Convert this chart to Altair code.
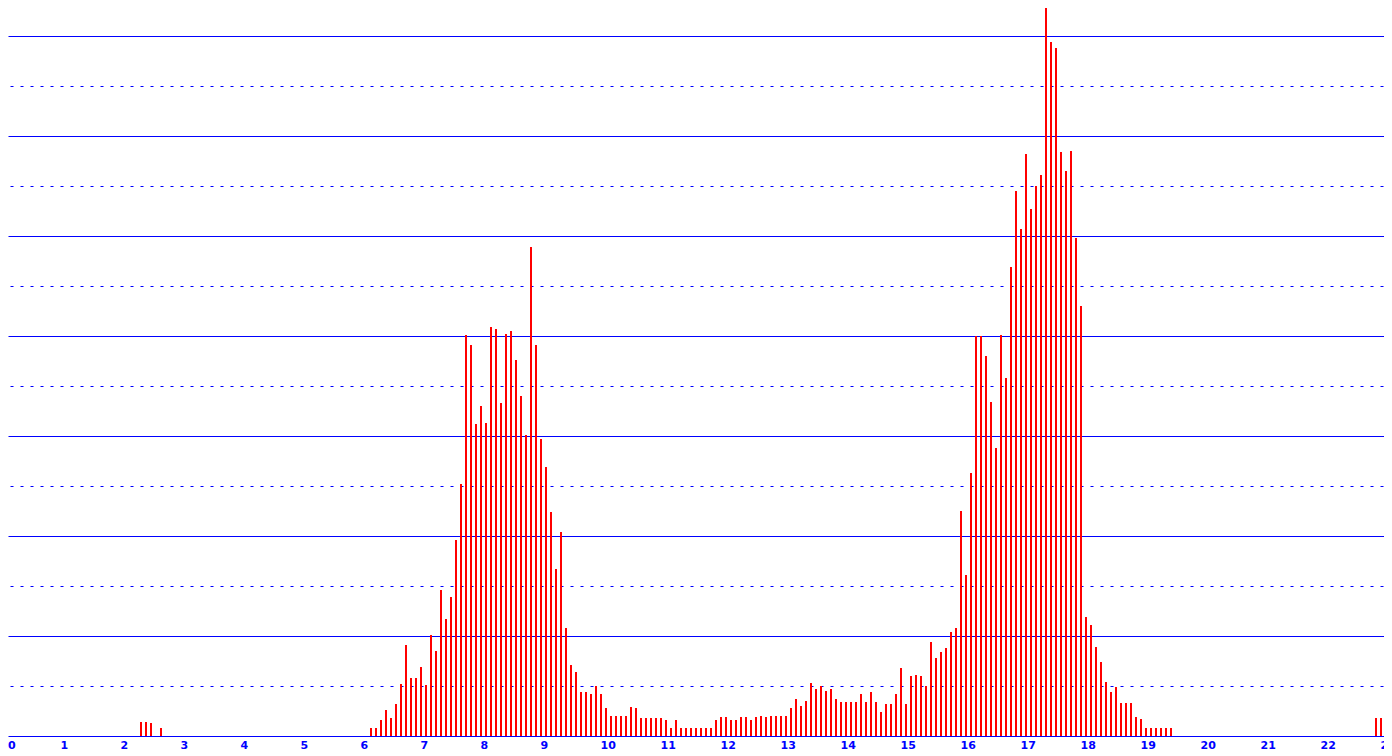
import altair as alt
import pandas as pd

# Tick labels on the time axis (hours of the day)
hour_ticks = list(range(24))

# Horizontal grid levels (solid every 100, dotted in between)
grid_levels = [50, 100, 150, 200, 250, 300, 350, 400, 450, 500, 550, 600, 650, 700]

# Counts per 5-minute slot
night_start = "02:15"
night_counts = [14, 14, 13, 0, 8]

day_start = "06:05"
day_counts = [
    8, 8, 16, 26, 18, 32, 52,
    91, 58, 58, 69, 51, 101, 85, 146, 117, 139,
    196, 252, 401, 391, 312, 330, 313, 409, 407, 333,
    402, 405, 376, 340, 301, 489, 391, 297, 269, 224,
    167, 204, 108, 71, 64, 44, 44, 42, 50, 42,
    28, 20, 20, 20, 20, 29, 28, 18, 18, 18,
    18, 18, 16, 8, 16, 8, 8, 8, 8, 8,
    8, 8, 16, 19, 19, 16, 16, 19, 19, 16,
    19, 20, 19, 20, 20, 20, 20, 28, 37, 30,
    35, 53, 47, 50, 45, 47, 37, 34, 34, 34,
    34, 42, 34, 44, 34, 24, 32, 32, 42, 68,
    32, 60, 61, 60, 50, 94, 78, 84, 88, 104,
    108, 225, 161, 263, 400, 400, 380, 334, 288, 401,
    358, 469, 545, 507, 582, 527, 550, 561, 734, 694,
    688, 584, 565, 585, 498, 430, 119, 111, 89, 74,
    54, 44, 49, 33, 33, 33, 19, 17, 8, 8,
    8, 8, 8, 8,
]

late_start = "22:50"
late_counts = [18, 18, 18]

SLOTS_PER_HOUR = 12


def slot_index(hhmm):
    h, m = (int(p) for p in hhmm.split(":"))
    return h * SLOTS_PER_HOUR + m // 5


counts = [0] * (24 * SLOTS_PER_HOUR)
for start, vals in [(night_start, night_counts), (day_start, day_counts), (late_start, late_counts)]:
    s = slot_index(start)
    for j, v in enumerate(vals):
        counts[s + j] = v

df = pd.DataFrame({
    "hour": [i / SLOTS_PER_HOUR for i in range(len(counts))],
    "count": counts,
})
df = df[df["count"] > 0]

BLUE = "#0000FF"
RED = "#FF0000"
LABEL_FONT = "DejaVu Sans"

x_scale = alt.Scale(domain=[5 / 60, 1381 / 60], nice=False, zero=False, padding=0)
y_scale = alt.Scale(domain=[0, 728], nice=False)

bars = alt.Chart(df).mark_bar(color=RED, size=2, xOffset=3, clip=True).encode(
    x=alt.X(
        "hour:Q",
        scale=x_scale,
        axis=alt.Axis(
            values=hour_ticks,
            format="d",
            title=None,
            grid=False,
            ticks=False,
            tickSize=0,
            domainColor=BLUE,
            domainWidth=1,
            labelColor=BLUE,
            labelFont=LABEL_FONT,
            labelFontSize=11,
            labelFontWeight="bold",
            labelAlign="left",
            labelOffset=-3,
            labelBaseline="top",
            labelPadding=3,
            labelOverlap=False,
            labelFlush=False,
            labelBound=False,
        ),
    ),
    y=alt.Y(
        "count:Q",
        scale=y_scale,
        axis=alt.Axis(
            values=grid_levels,
            grid=True,
            domain=False,
            ticks=False,
            labels=False,
            title=None,
            gridColor=BLUE,
            gridWidth=1,
            gridOpacity=1,
            gridDash={"condition": {"test": "datum.value % 100 === 0", "value": []}, "value": [3, 7]},
            gridDashOffset=8,
        ),
    ),
)

# The first hour label sits at the very left edge, outside the scale domain
first_label = alt.Chart(pd.DataFrame({"hour": [hour_ticks[0]], "count": [0]})).mark_text(
    align="left",
    baseline="top",
    dx=5,
    dy=4,
    color=BLUE,
    font=LABEL_FONT,
    fontSize=11,
    fontWeight="bold",
).encode(
    x=alt.X("hour:Q", scale=x_scale),
    y=alt.Y("count:Q", scale=y_scale),
    text=alt.Text("hour:Q", format="d"),
)

chart = alt.layer(bars, first_label).properties(
    width=1376,
    height=728,
    autosize=alt.AutoSizeParams(type="none"),
    padding={"left": 0, "top": 0, "right": 0, "bottom": 14},
    background="white",
).configure_view(strokeWidth=0)

chart.save("out.html", embed_options={"renderer": "svg", "actions": False})
